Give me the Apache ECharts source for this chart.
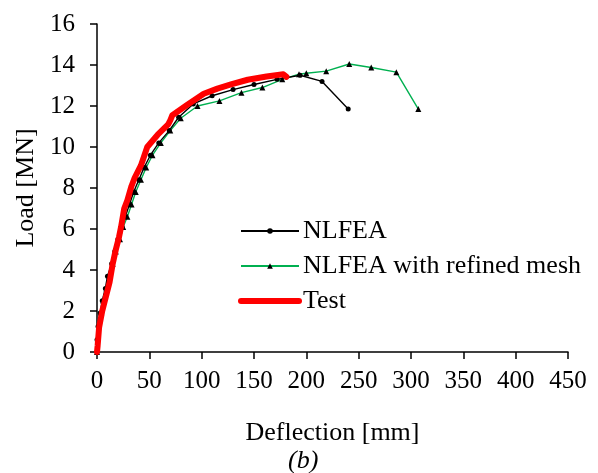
<!DOCTYPE html>
<html><head><meta charset="utf-8">
<script src="https://cdn.jsdelivr.net/npm/echarts@6/dist/echarts.min.js"></script>
<style>html,body{margin:0;padding:0;background:#fff}#c{width:598px;height:473px}</style>
</head><body><div id="c"></div>
<script>
var seriesNames = ['NLFEA', 'NLFEA with refined mesh', 'Test'];
var xTicks = [0, 50, 100, 150, 200, 250, 300, 350, 400, 450];
var yTicks = [0, 2, 4, 6, 8, 10, 12, 14, 16];
var nlfea = [[0,0],[0,0.6],[1,1.25],[3,1.9],[5,2.5],[8,3.1],[10,3.7],[14,4.3],[17,4.9],[20,5.5],[24,6.1],[27,6.6],[31,7.2],[35,7.8],[40,8.4],[45,9.0],[51,9.6],[59,10.2],[69,10.8],[78,11.45],[92,12.1],[110,12.5],[130,12.8],[150,13.05],[172,13.3],[194,13.5],[215,13.2],[240,11.85]];
var refined = [[0,0],[1,0.7],[2,1.3],[4,1.9],[6,2.5],[9,3.1],[12,3.7],[15,4.3],[18,4.9],[22,5.5],[25,6.1],[29,6.6],[33,7.2],[37,7.8],[42,8.4],[47,9.0],[53,9.6],[61,10.2],[70,10.8],[80,11.4],[96,12.0],[117,12.25],[138,12.65],[158,12.9],[177,13.3],[193,13.55],[200,13.6],[219,13.7],[241,14.05],[262,13.88],[286,13.65],[307,11.85]];
var test = [[0,0],[0.6,0.3],[2,1.2],[5,2],[7,2.4],[10,3.0],[12,3.4],[14,4.0],[15,4.3],[18,5.0],[21,5.6],[23,6.1],[26,7.0],[29,7.4],[33,8.1],[36,8.5],[42,9.1],[48,10.0],[58,10.6],[68,11.1],[70,11.3],[72,11.55],[86,12.05],[102,12.6],[115,12.85],[128,13.05],[144,13.28],[162,13.44],[178,13.55],[181,13.42]];

var F = '"Liberation Serif","Times New Roman",serif';
var chart = echarts.init(document.getElementById('c'));
chart.setOption({
  animation: false,
  backgroundColor: '#fff',
  grid: {left: 97, right: 30, top: 24, bottom: 121},
  legend: {
    orient: 'vertical', left: 233, top: 213, itemWidth: 58, itemHeight: 7, itemGap: 9,
    textStyle: {fontFamily: F, fontSize: 26, color: '#000', padding: [0,0,0,-1]},
    data: [
      {name: seriesNames[0]},
      {name: seriesNames[1]},
      {name: seriesNames[2], itemStyle: {opacity: 0}, lineStyle: {width: 6, color: '#FF0000', cap: 'round'}}
    ]
  },
  xAxis: {
    type: 'value', min: 0, max: 450, interval: 50,
    name: 'Deflection [mm]', nameLocation: 'middle', nameGap: 68,
    nameTextStyle: {fontFamily: F, fontSize: 26, color: '#000'},
    axisLine: {lineStyle: {color: '#000', width: 1.5}},
    axisTick: {show: true, length: 7, lineStyle: {color: '#000', width: 1.5}},
    axisLabel: {fontFamily: F, fontSize: 25, color: '#000', margin: 17},
    splitLine: {show: false}
  },
  yAxis: {
    type: 'value', min: 0, max: 16, interval: 2,
    name: 'Load [MN]', nameLocation: 'middle', nameGap: 55, nameRotate: 90,
    nameTextStyle: {fontFamily: F, fontSize: 26, color: '#000'},
    axisLine: {show: true, lineStyle: {color: '#000', width: 1.5}},
    axisTick: {show: true, length: 7, lineStyle: {color: '#000', width: 1.5}},
    axisLabel: {fontFamily: F, fontSize: 25, color: '#000', margin: 22},
    splitLine: {show: false}
  },
  graphic: [{
    type: 'text', left: 288, top: 448,
    style: {text: '(b)', font: 'italic 26px ' + F, fill: '#000'}
  }],
  series: [
    {name: seriesNames[0], type: 'line', data: nlfea, symbol: 'circle', symbolSize: 5,
     itemStyle: {color: '#000'}, lineStyle: {color: '#000', width: 1.4}, z: 3},
    {name: seriesNames[1], type: 'line', data: refined, symbol: 'triangle', symbolSize: 6,
     itemStyle: {color: '#000'}, lineStyle: {color: '#00B050', width: 1.4}, z: 2},
    {name: seriesNames[2], type: 'line', data: test, symbol: 'none',
     itemStyle: {color: '#FF0000'}, lineStyle: {color: '#FF0000', width: 6, cap: 'round', join: 'round'}, z: 4}
  ]
});
</script></body></html>
